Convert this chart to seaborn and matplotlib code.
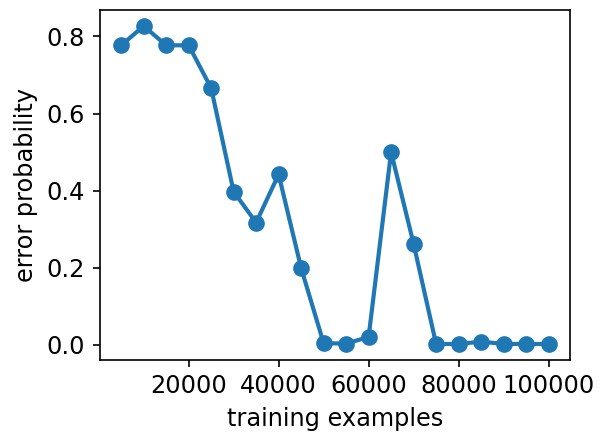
import numpy as np
import matplotlib
matplotlib.use("Agg")
import matplotlib.pyplot as plt
import seaborn as sns

training_examples = [5000, 10000, 15000, 20000, 25000, 30000, 35000, 40000, 45000, 50000,
                     55000, 60000, 65000, 70000, 75000, 80000, 85000, 90000, 95000, 100000]
error_probability = [0.777, 0.827, 0.777, 0.777, 0.666, 0.397, 0.317, 0.442, 0.199, 0.004,
                     0.003, 0.020, 0.500, 0.262, 0.002, 0.002, 0.008, 0.002, 0.002, 0.002]

plt.rcParams["font.size"] = 11.5
fig, ax = plt.subplots(figsize=(6.05 / 1.5, 4.41 / 1.5), dpi=150)
sns.lineplot(x=training_examples, y=error_probability, marker="o", markersize=8,
             markeredgewidth=0, color="#1f77b4", linewidth=2, ax=ax)
ax.set_xlabel("training examples")
ax.set_ylabel("error probability")
ax.set_xticks([20000, 40000, 60000, 80000, 100000])
ax.set_yticks([0.0, 0.2, 0.4, 0.6, 0.8])
fig.subplots_adjust(left=0.165, right=0.942, bottom=0.184, top=0.977)
fig.savefig("out.png", dpi=150)
